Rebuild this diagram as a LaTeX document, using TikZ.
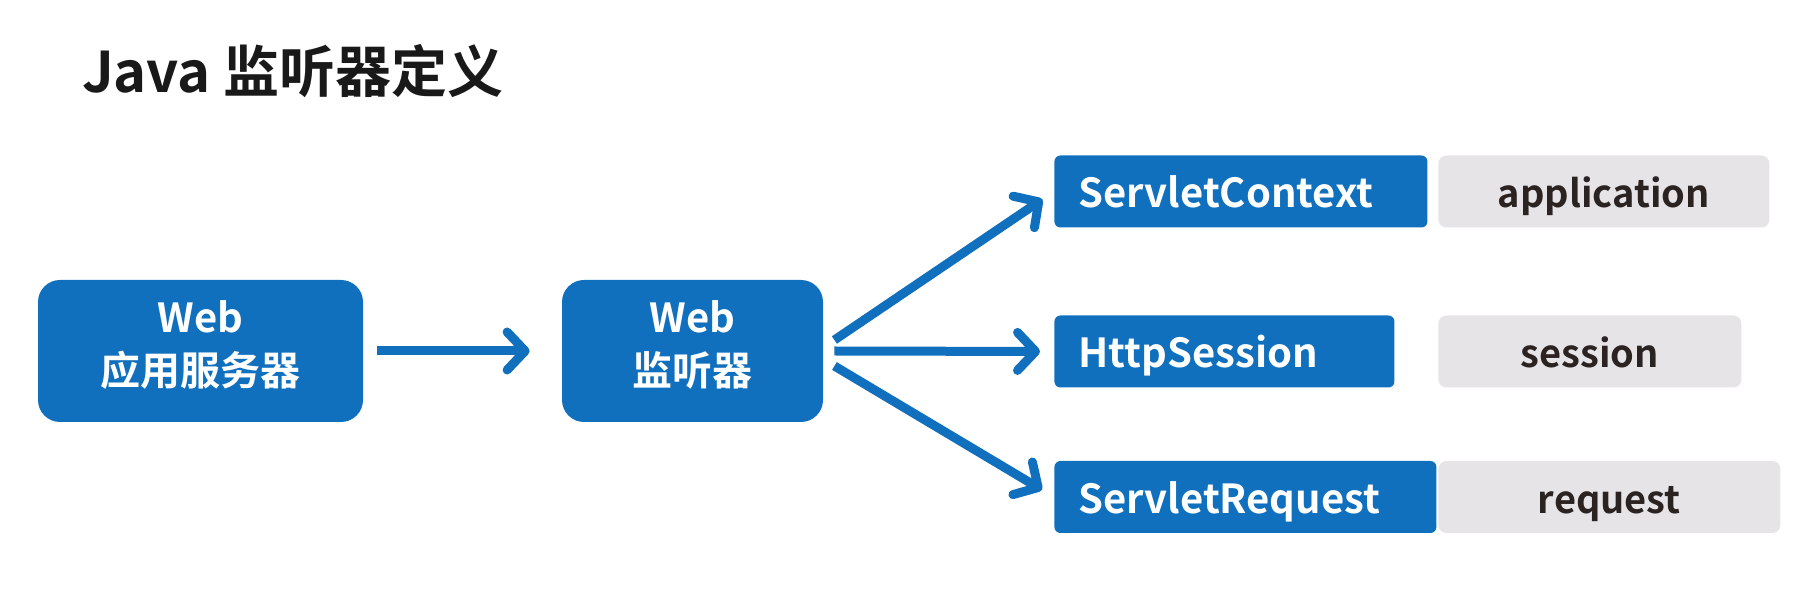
\documentclass[tikz,border=0pt]{standalone}
\usepackage{fontspec}
\setmainfont{Noto Sans CJK SC}[BoldFont={* Bold}]
\usetikzlibrary{arrows.meta}

\definecolor{boxblue}{HTML}{1070BE}
\definecolor{tagGray}{HTML}{E6E4E6}
\definecolor{tagText}{HTML}{2B2222}

\begin{document}
\begin{tikzpicture}[x=0.5pt, y=-0.5pt,
    bluebox/.style={fill=boxblue, text=white, rounded corners=11pt, align=center,
        text depth=8pt, font=\fontsize{20}{27.5}\selectfont\bfseries},
    apibox/.style={fill=boxblue, text=white, rounded corners=3pt, minimum height=36pt,
        anchor=west, text width=#1, inner xsep=12pt, align=left,
        text height=19pt, text depth=2.5pt,
        font=\fontsize{20}{24}\selectfont\bfseries},
    tagbox/.style={fill=tagGray, text=tagText, rounded corners=4pt, minimum height=36pt,
        anchor=west, minimum width=#1, text height=19pt, text depth=2.5pt,
        font=\fontsize{19}{24}\selectfont\bfseries},
    arr/.style={-{Straight Barb[length=9pt, width=19pt, line width=4.5pt, round]},
        line width=4.5pt, boxblue}]

    \useasboundingbox (0,0) rectangle (1807,597);

    % Title
    \node[anchor=west, font=\fontsize{28}{32}\selectfont\bfseries, text=black!90]
        (title) at (75,71) {Java 监听器定义};

    % Server and listener
    \node[bluebox, minimum width=162.5pt, minimum height=71pt] (server) at (200.5,351)
        {Web\\[-1pt]应用服务器};
    \node[bluebox, minimum width=130.5pt, minimum height=71pt] (listener) at (692.5,351)
        {Web\\[-1pt]监听器};

    % Scope objects
    \node[apibox=162.5pt] (ctx) at (1054,191.5) {ServletContext};
    \node[apibox=146pt] (ses) at (1054,351.5) {HttpSession};
    \node[apibox=167pt] (req) at (1054,497) {ServletRequest};

    % Their names in JSP
    \node[tagbox=165.5pt] (app) at (1438,191.5) {application};
    \node[tagbox=151.5pt] (sesname) at (1438,351.5) {session};
    \node[tagbox=171pt] (reqname) at (1438,497) {request};

    % Arrows
    \draw[arr, shorten <=7pt, shorten >=16pt] (server.east) -- (listener.west);
    \draw[arr, shorten >=7pt] ([xshift=5.5pt, yshift=5.5pt]listener.east) -- (ctx.west);
    \draw[arr, shorten >=7pt] ([xshift=5.5pt]listener.east) -- (ses.west);
    \draw[arr, shorten >=7pt] ([xshift=5.5pt, yshift=-7.5pt]listener.east) -- (req.west);

\end{tikzpicture}
\end{document}
